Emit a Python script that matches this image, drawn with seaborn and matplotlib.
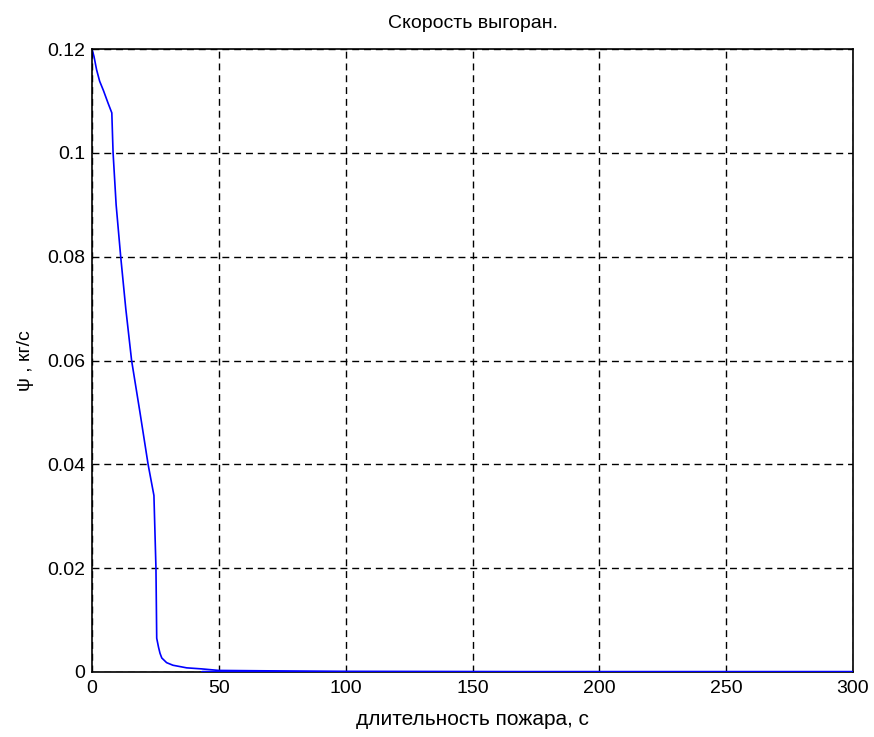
import numpy as np
import pandas as pd
import matplotlib
matplotlib.use("Agg")
import matplotlib.pyplot as plt
import seaborn as sns

# burn rate over fire duration
t_sec = [0, 0.8, 1.8, 3, 4.5, 6.3, 7.8, 8.1, 8.3, 9.5, 11.3, 13.3, 15.6, 18.9,
         22.1, 24.4, 24.8, 25.2, 25.5, 26.2, 26.8, 27.5, 29.4, 31.9, 37.3,
         43.2, 50, 100, 200, 300]
psi = [0.120, 0.1185, 0.116, 0.1138, 0.112, 0.1096, 0.1077, 0.103, 0.100,
       0.090, 0.080, 0.070, 0.060, 0.050, 0.040, 0.034, 0.027, 0.020,
       0.0065, 0.0048, 0.0036, 0.0027, 0.0018, 0.0013, 0.0008, 0.0006,
       0.0003, 0.0001, 0.0, 0.0]

x_ticks = [0, 50, 100, 150, 200, 250, 300]
y_ticks = [0, 0.02, 0.04, 0.06, 0.08, 0.1, 0.12]
y_labels = ["0", "0.02", "0.04", "0.06", "0.08", "0.1", "0.12"]

df = pd.DataFrame({"t": t_sec, "psi": psi})

sns.set_style("white")
plt.rcParams["font.family"] = ["Liberation Sans", "DejaVu Sans"]
plt.rcParams["text.color"] = "black"
plt.rcParams["axes.labelcolor"] = "black"

fig = plt.figure(figsize=(8.74, 7.37), dpi=100)
ax = fig.add_axes([0.1053, 0.0882, 0.8707, 0.8453])

sns.lineplot(data=df, x="t", y="psi", ax=ax, color="#0000ff", linewidth=1.2)
# thick line along the zero level
ax.plot([43.2, 300], [0, 0], color="#0000ff", linewidth=2.5, zorder=3)

ax.set_xlim(0, 300)
ax.set_ylim(0, 0.12)
ax.set_xticks(x_ticks)
ax.set_yticks(y_ticks)
ax.set_yticklabels(y_labels)
ax.tick_params(axis="both", direction="in", length=5, labelsize=14, colors="black")
ax.tick_params(axis="x", pad=6)
ax.tick_params(axis="y", pad=5)
ax.grid(True, color="black", linestyle=(0, (5, 3.5)), linewidth=1)
for s in ax.spines.values():
    s.set_color("black")
    s.set_linewidth(1.2)

ax.set_title("Скорость выгоран.", fontsize=14, pad=15, color="black")
ax.set_xlabel("длительность пожара, с", fontsize=15, labelpad=9)
ax.set_ylabel("ψ , кг/с", fontsize=14, labelpad=9)

fig.savefig("out.png", dpi=100)
